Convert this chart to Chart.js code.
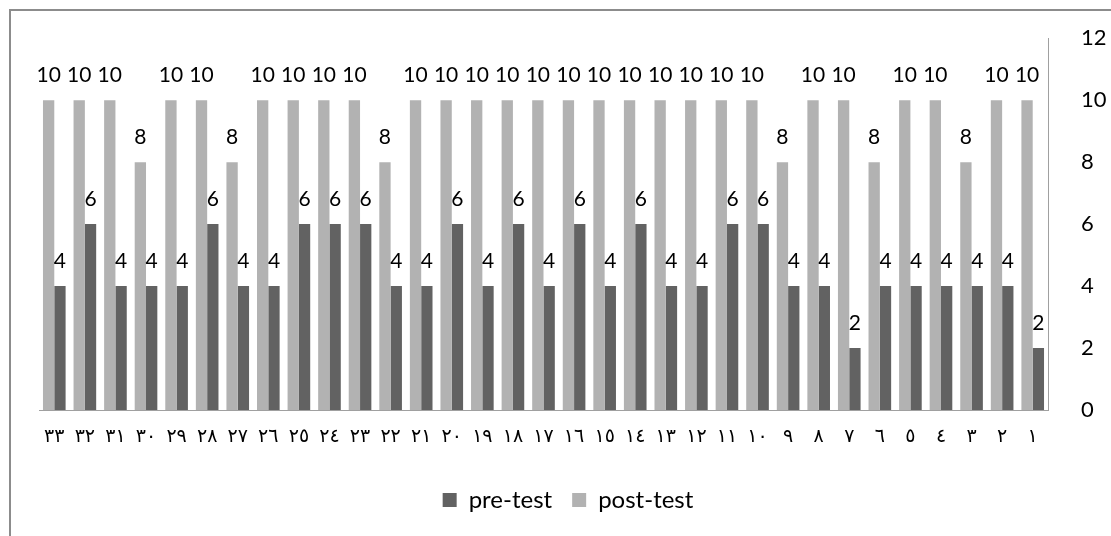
<!DOCTYPE html>
<html>
<head>
<meta charset="utf-8">
<style>
  html, body { margin: 0; padding: 0; background: #fff; overflow: hidden; }
  #wrap { position: relative; width: 1111px; height: 536px; }
</style>
<script src="https://cdn.jsdelivr.net/npm/chart.js@4/dist/chart.umd.min.js"></script>
</head>
<body>
<div id="wrap"><canvas id="c" width="1111" height="536"></canvas></div>
<script>
// Categories 1..33 (Arabic-Indic numerals); axis is drawn right-to-left
const categories = ['١','٢','٣','٤','٥','٦','٧','٨','٩','١٠','١١','١٢','١٣','١٤','١٥','١٦','١٧','١٨','١٩','٢٠','٢١','٢٢','٢٣','٢٤','٢٥','٢٦','٢٧','٢٨','٢٩','٣٠','٣١','٣٢','٣٣'];
const preTest  = [2,4,4,4,4,4,2,4,4,6,6,4,4,6,4,6,4,6,4,6,4,4,6,6,6,4,4,6,4,4,4,6,4];
const postTest = [10,10,8,10,10,8,10,10,8,10,10,10,10,10,10,10,10,10,10,10,10,8,10,10,10,10,8,10,10,8,10,10,10];
const yTicks = [0,2,4,6,8,10,12];

const LABEL_FONT = 'Lato, "Liberation Sans", sans-serif';

const frame = {
  id: 'frame',
  beforeDraw(chart) {
    const ctx = chart.ctx;
    ctx.save();
    ctx.fillStyle = '#fff';
    ctx.fillRect(0, 0, chart.width, chart.height);
    ctx.strokeStyle = '#8c8c8c';
    ctx.lineWidth = 2;
    ctx.strokeRect(10, 10, chart.width + 20, chart.height + 20);
    ctx.restore();
  }
};

const valueLabels = {
  id: 'valueLabels',
  afterDatasetsDraw(chart) {
    const ctx = chart.ctx;
    ctx.save();
    ctx.font = '21px ' + LABEL_FONT;
    ctx.fillStyle = '#000';
    ctx.textAlign = 'center';
    ctx.textBaseline = 'alphabetic';
    chart.data.datasets.forEach((ds, di) => {
      const meta = chart.getDatasetMeta(di);
      if (meta.hidden) return;
      meta.data.forEach((el, i) => {
        ctx.fillText(String(ds.data[i]), el.x, el.y - 18);
      });
    });
    ctx.restore();
  }
};

new Chart(document.getElementById('c'), {
  type: 'bar',
  data: {
    labels: categories,
    datasets: [
      { label: 'post-test', data: postTest, xAxisID: 'x', yAxisID: 'y', backgroundColor: '#b2b2b2', borderWidth: 0 },
      { label: 'pre-test',  data: preTest,  xAxisID: 'x', yAxisID: 'y', backgroundColor: '#626262', borderWidth: 0 }
    ]
  },
  options: {
    responsive: false,
    animation: false,
    devicePixelRatio: 1,
    categoryPercentage: 0.74,
    barPercentage: 1.0,
    layout: { padding: { left: 25, right: 0, top: 38, bottom: 14 } },
    plugins: {
      tooltip: { enabled: false },
      legend: {
        position: 'bottom',
        labels: {
          sort: (a, b) => b.datasetIndex - a.datasetIndex,
          boxWidth: 14,
          boxHeight: 14,
          padding: 20,
          color: '#000',
          font: { family: LABEL_FONT, size: 24 }
        }
      }
    },
    scales: {
      x: {
        reverse: true,
        grid: { display: false },
        border: { display: true, color: '#a0a0a0', width: 1 },
        ticks: {
          autoSkip: false,
          maxRotation: 0,
          minRotation: 0,
          padding: 8,
          color: '#000',
          font: { family: '"DejaVu Sans", sans-serif', size: 19 }
        },
        afterFit(scale) { scale.height = 58; }
      },
      y: {
        position: 'right',
        min: 0,
        max: 12,
        afterBuildTicks(scale) { scale.ticks = yTicks.map(v => ({ value: v })); },
        grid: { display: false },
        border: { display: true, color: '#a0a0a0', width: 1 },
        ticks: {
          padding: 25,
          color: '#000',
          font: { family: LABEL_FONT, size: 22 }
        },
        afterFit(scale) { scale.width = 63; }
      },
      spacer: {
        type: 'linear',
        position: 'left',
        display: true,
        min: 0,
        max: 1,
        grid: { display: false },
        border: { display: false },
        ticks: { display: false },
        afterFit(scale) { scale.width = 14; }
      }
    }
  },
  plugins: [frame, valueLabels]
});
</script>
</body>
</html>
